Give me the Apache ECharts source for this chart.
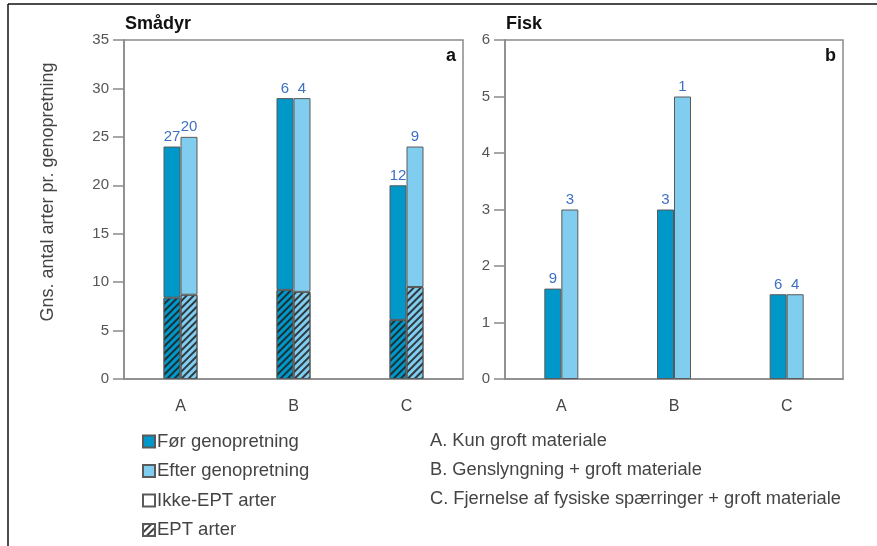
<!DOCTYPE html>
<html><head><meta charset="utf-8">
<script src="https://cdn.jsdelivr.net/npm/echarts@6/dist/echarts.min.js"></script>
<style>html,body{margin:0;padding:0;background:#fff}#c{width:877px;height:546px}</style>
</head><body><div id="c"></div>
<script>
const categories = ['A', 'B', 'C'];
// Smådyr (panel a)
const smaFoerTotal = [24, 29, 20];
const smaEfterTotal = [25, 29, 24];
const smaFoerEPT = [8.4, 9.2, 6.1];
const smaEfterEPT = [8.7, 9.0, 9.5];
const smaFoerN = [27, 6, 12];
const smaEfterN = [20, 4, 9];
// Fisk (panel b)
const fiskFoer = [1.6, 3, 1.5];
const fiskEfter = [3, 5, 1.5];
const fiskFoerN = [9, 3, 6];
const fiskEfterN = [3, 1, 4];
const legendNames = ['Før genopretning', 'Efter genopretning', 'Ikke-EPT arter', 'EPT arter'];
const keyLines = ['A. Kun groft materiale', 'B. Genslyngning + groft materiale', 'C. Fjernelse af fysiske spærringer + groft materiale'];

const FONT = 'Liberation Sans';
const cFoer = '#0097c9';
const cEfter = '#80cdef';
const border = '#5a5a5a';
const axisGray = '#8a8a8a';
const labelBlue = '#3d6fc4';
const hatch = {symbol: 'rect', symbolSize: 1, dashArrayX: [1, 0], dashArrayY: [1.6, 2.8], rotation: -Math.PI / 4, color: 'rgba(30,30,30,0.85)'};

const remainder = (tot, ept) => tot.map((v, i) => +(v - ept[i]).toFixed(2));

function mkAxes(idx, max, interval) {
  return {
    x: {type: 'category', gridIndex: idx, data: categories, boundaryGap: true,
      axisLine: {lineStyle: {color: axisGray, width: 1.5}},
      axisTick: {alignWithLabel: true, length: 9, lineStyle: {color: axisGray, width: 1.5}},
      axisLabel: {color: '#444', fontSize: 16, fontFamily: FONT, margin: 20}},
    y: {type: 'value', gridIndex: idx, min: 0, max: max, interval: interval,
      axisLine: {show: true, lineStyle: {color: axisGray, width: 1.5}},
      axisTick: {show: true, length: 11, lineStyle: {color: axisGray, width: 1.5}},
      splitLine: {show: false},
      axisLabel: {color: '#555', fontSize: 15, fontFamily: FONT, margin: 15}}
  };
}
const a0 = mkAxes(0, 35, 5), a1 = mkAxes(1, 6, 1);

const lbl = (arr) => ({show: true, position: 'top', distance: 2, color: labelBlue, fontSize: 15, fontFamily: FONT,
  formatter: p => String(arr[p.dataIndex])});
const baseBar = {type: 'bar', barWidth: 17, barGap: '0%'};

const series = [
  Object.assign({}, baseBar, {name: 'Før EPT', xAxisIndex: 0, yAxisIndex: 0, stack: 'Lb', data: smaFoerEPT,
    itemStyle: {color: cFoer, borderColor: border, borderWidth: 1, decal: hatch}}),
  Object.assign({}, baseBar, {name: 'Før genopretning', xAxisIndex: 0, yAxisIndex: 0, stack: 'Lb', data: remainder(smaFoerTotal, smaFoerEPT),
    itemStyle: {color: cFoer, borderColor: border, borderWidth: 1}, label: lbl(smaFoerN)}),
  Object.assign({}, baseBar, {name: 'Efter EPT', xAxisIndex: 0, yAxisIndex: 0, stack: 'La', data: smaEfterEPT,
    itemStyle: {color: cEfter, borderColor: border, borderWidth: 1, decal: hatch}}),
  Object.assign({}, baseBar, {name: 'Efter genopretning', xAxisIndex: 0, yAxisIndex: 0, stack: 'La', data: remainder(smaEfterTotal, smaEfterEPT),
    itemStyle: {color: cEfter, borderColor: border, borderWidth: 1}, label: lbl(smaEfterN)}),
  Object.assign({}, baseBar, {name: 'Ikke-EPT arter', xAxisIndex: 0, yAxisIndex: 0, stack: 'Lb', data: [],
    itemStyle: {color: '#fff', borderColor: border, borderWidth: 1}}),
  Object.assign({}, baseBar, {name: 'EPT arter', xAxisIndex: 0, yAxisIndex: 0, stack: 'Lb', data: [],
    itemStyle: {color: '#fff', borderColor: border, borderWidth: 1, decal: hatch}}),
  Object.assign({}, baseBar, {name: 'Før genopretning', xAxisIndex: 1, yAxisIndex: 1, data: fiskFoer,
    itemStyle: {color: cFoer, borderColor: border, borderWidth: 1}, label: lbl(fiskFoerN)}),
  Object.assign({}, baseBar, {name: 'Efter genopretning', xAxisIndex: 1, yAxisIndex: 1, data: fiskEfter,
    itemStyle: {color: cEfter, borderColor: border, borderWidth: 1}, label: lbl(fiskEfterN)})
];

const graphics = [
  {type: 'line', shape: {x1: 8, y1: 4, x2: 877, y2: 4}, style: {stroke: '#111', lineWidth: 1.5}},
  {type: 'line', shape: {x1: 8, y1: 4, x2: 8, y2: 546}, style: {stroke: '#111', lineWidth: 1.5}},
  {type: 'text', x: 48, y: 192, rotation: Math.PI / 2,
    style: {text: 'Gns. antal arter pr. genopretning', fontSize: 18, fontFamily: FONT, fill: '#444', align: 'center', verticalAlign: 'middle'}}
];
keyLines.forEach((t, i) => graphics.push({type: 'text', x: 430, y: 441 + i * 29,
  style: {text: t, fontSize: 18.3, fontFamily: FONT, fill: '#444', verticalAlign: 'middle'}}));

const chart = echarts.init(document.getElementById('c'), null, {renderer: 'canvas'});
chart.setOption({
  animation: false,
  title: [
    {text: 'Smådyr', left: 125, top: 15, padding: 0, textStyle: {fontSize: 18, fontWeight: 'bold', color: '#111', fontFamily: FONT}},
    {text: 'Fisk', left: 506, top: 15, padding: 0, textStyle: {fontSize: 18, fontWeight: 'bold', color: '#111', fontFamily: FONT}},
    {text: 'a', left: 446, top: 47, padding: 0, textStyle: {fontSize: 18, fontWeight: 'bold', color: '#111', fontFamily: FONT}},
    {text: 'b', left: 825, top: 47, padding: 0, textStyle: {fontSize: 18, fontWeight: 'bold', color: '#111', fontFamily: FONT}}
  ],
  grid: [
    {left: 124, top: 40, width: 339, height: 339, show: true, borderColor: axisGray, borderWidth: 1.5, backgroundColor: 'transparent'},
    {left: 505, top: 40, width: 338, height: 339, show: true, borderColor: axisGray, borderWidth: 1.5, backgroundColor: 'transparent'}
  ],
  xAxis: [a0.x, a1.x],
  yAxis: [a0.y, a1.y],
  legend: {data: legendNames, orient: 'vertical', left: 142, top: 432, padding: 0, itemGap: 10.5, itemWidth: 12, itemHeight: 12,
    icon: 'rect', textStyle: {fontSize: 18.5, lineHeight: 18, color: '#444', fontFamily: FONT, padding: [0, 0, 0, -3]}},
  series: series,
  graphic: graphics
});
</script></body></html>
